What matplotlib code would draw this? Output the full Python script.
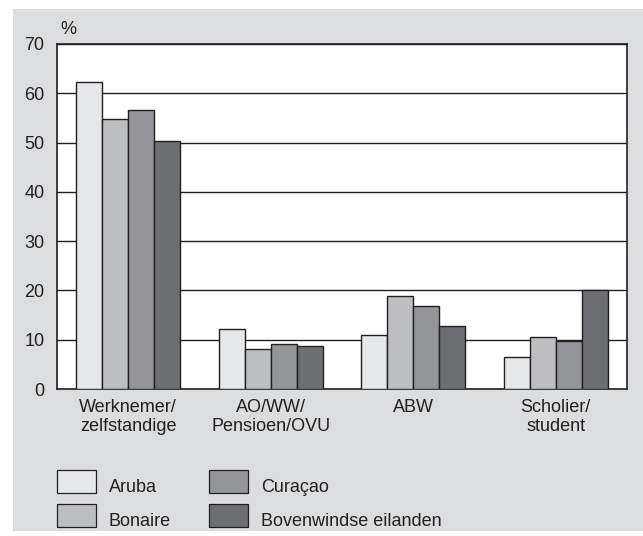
import matplotlib
matplotlib.use("Agg")
import matplotlib.pyplot as plt
from matplotlib.patches import Rectangle
import numpy as np

plt.rcParams['font.family'] = ['Liberation Sans', 'DejaVu Sans']

categories = ["Werknemer/\nzelfstandige", "AO/WW/\nPensioen/OVU", "ABW", "Scholier/\nstudent"]
series_names = ["Aruba", "Bonaire", "Curaçao", "Bovenwindse eilanden"]
aruba = [62.3, 12.2, 11.0, 6.4]
bonaire = [54.7, 8.1, 18.8, 10.6]
curacao = [56.7, 9.1, 16.8, 9.7]
bovenwindse = [50.4, 8.8, 12.7, 20.0]
yticks = [0, 10, 20, 30, 40, 50, 60, 70]

values = [aruba, bonaire, curacao, bovenwindse]
colors = ["#e6e7e8", "#bcbec0", "#939598", "#6d6e71"]
edge = "#231f20"
textc = "#231f20"
panel = "#dcddde"

W, H = 643, 536
fig = plt.figure(figsize=(W / 100, H / 100), dpi=100, facecolor="white")

# grey panel
fig.add_artist(Rectangle((13 / W, 1 - 531 / H), (643 - 13) / W, (531 - 9) / H,
                         transform=fig.transFigure, facecolor=panel, edgecolor="none", zorder=-10))

ax = fig.add_axes([57 / W, 1 - 389 / H, (627 - 57) / W, (389 - 44) / H])
ax.set_facecolor("white")

x = np.arange(len(categories))
bw = 0.182
for i, (vals, col) in enumerate(zip(values, colors)):
    ax.bar(x + (i - 1.5) * bw, vals, width=bw, color=col, edgecolor=edge, linewidth=1.0, zorder=3)

ax.set_xlim(-0.5, 3.5)
ax.set_ylim(0, 70)
ax.set_yticks(yticks)
ax.set_yticklabels([str(t) for t in yticks], fontsize=13, color=textc)
ax.set_xticks(x)
ax.set_xticklabels(categories, fontsize=13, color=textc, linespacing=1.15)
ax.tick_params(axis='both', length=0)
ax.tick_params(axis='y', pad=9)
ax.tick_params(axis='x', pad=7)
ax.yaxis.grid(True, color="#231f20", linewidth=1.0, zorder=0)
ax.set_axisbelow(True)
for s in ax.spines.values():
    s.set_color(edge)
    s.set_linewidth(1.2)

fig.text(60 / W, 1 - 30 / H, "%", fontsize=13, color=textc, ha="left", va="center")

# legend
leg_pos = [(57, 470), (57, 504), (209, 470), (209, 504)]
for name, col, (px, py) in zip(series_names, colors, leg_pos):
    fig.add_artist(Rectangle((px / W, 1 - (py + 23) / H), 39 / W, 23 / H,
                             transform=fig.transFigure, facecolor=col, edgecolor=edge, linewidth=0.9))
    fig.text((px + 52) / W, 1 - (py + 17) / H, name, fontsize=13, color=textc, ha="left", va="center")

fig.savefig("out.png", dpi=100, facecolor="white")
